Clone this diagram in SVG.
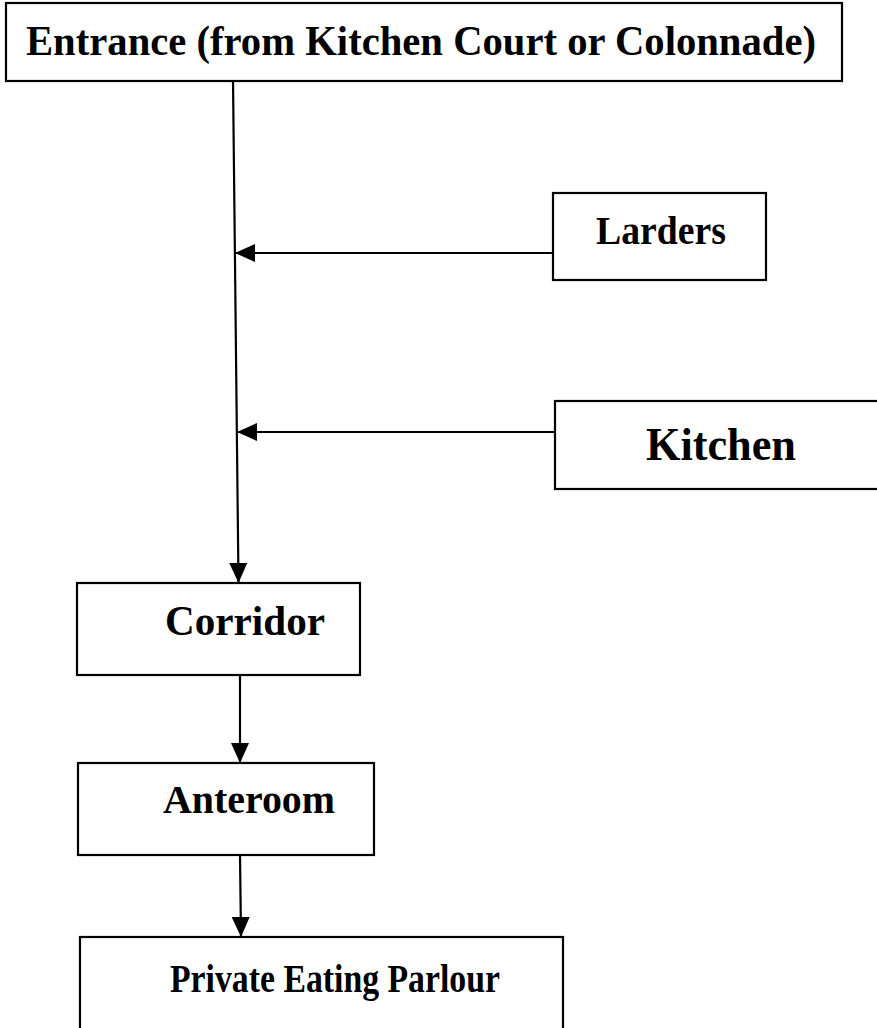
<svg xmlns="http://www.w3.org/2000/svg" width="877" height="1028" viewBox="0 0 877 1028">
<style>
.box{fill:#fff;stroke:#000;stroke-width:2.2}
.lbl{font-family:"Liberation Serif","Times New Roman",serif;font-weight:bold;fill:#000;text-anchor:middle}
.ln{stroke:#000;stroke-width:2.2;fill:none}
</style>
<defs>
<marker id="ah" viewBox="0 0 20 18" refX="20" refY="9" markerWidth="20" markerHeight="18" markerUnits="userSpaceOnUse" orient="auto">
<path d="M0,0 L20,9 L0,18 Z" fill="#000"/>
</marker>
</defs>
<rect width="877" height="1028" fill="#fff"/>
<g id="connectors">
<line class="ln" x1="233" y1="79" x2="238.5" y2="583" marker-end="url(#ah)"/>
<line class="ln" x1="553" y1="253" x2="235" y2="253" marker-end="url(#ah)"/>
<line class="ln" x1="555" y1="432" x2="237" y2="432" marker-end="url(#ah)"/>
<line class="ln" x1="240" y1="675" x2="240" y2="763" marker-end="url(#ah)"/>
<line class="ln" x1="240" y1="855" x2="241" y2="937" marker-end="url(#ah)"/>
</g>
<g id="entrance">
<rect class="box" x="6" y="3" width="836" height="78"/>
<text class="lbl" x="421" y="55" font-size="43" textLength="790" lengthAdjust="spacingAndGlyphs">Entrance (from Kitchen Court or Colonnade)</text>
</g>
<g id="larders">
<rect class="box" x="553" y="193" width="213" height="87"/>
<text class="lbl" x="661" y="244" font-size="40" textLength="130" lengthAdjust="spacingAndGlyphs">Larders</text>
</g>
<g id="kitchen">
<rect class="box" x="555" y="401" width="340" height="88"/>
<text class="lbl" x="721" y="460" font-size="46" textLength="150" lengthAdjust="spacingAndGlyphs">Kitchen</text>
</g>
<g id="corridor">
<rect class="box" x="77" y="583" width="283" height="92"/>
<text class="lbl" x="245" y="635" font-size="42" textLength="160" lengthAdjust="spacingAndGlyphs">Corridor</text>
</g>
<g id="anteroom">
<rect class="box" x="78" y="763" width="296" height="92"/>
<text class="lbl" x="249" y="813" font-size="41" textLength="172" lengthAdjust="spacingAndGlyphs">Anteroom</text>
</g>
<g id="parlour">
<rect class="box" x="80" y="937" width="483" height="100"/>
<text class="lbl" x="335" y="992" font-size="40" textLength="330" lengthAdjust="spacingAndGlyphs">Private Eating Parlour</text>
</g>
</svg>
